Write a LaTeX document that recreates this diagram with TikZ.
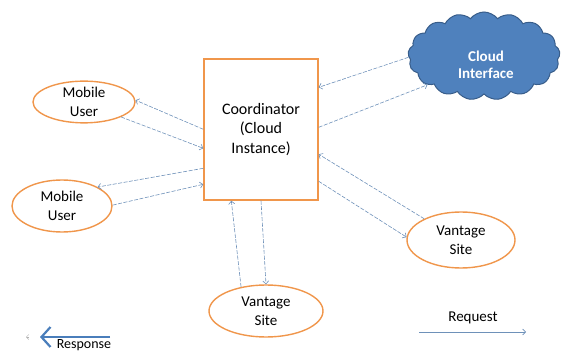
\documentclass[tikz,border=0pt]{standalone}
\usepackage{fontspec}
\setmainfont{Carlito}
\usetikzlibrary{shapes.geometric,shapes.symbols,arrows.meta}
\definecolor{orng}{RGB}{240,150,75}
\definecolor{lineblue}{RGB}{110,145,185}
\definecolor{cloudblue}{RGB}{79,129,189}
\definecolor{cloudedge}{RGB}{56,93,138}
\definecolor{legblue}{RGB}{74,126,187}
\tikzset{
  ell/.style={ellipse, draw=orng, line width=1.4pt, fill=white, align=center, inner sep=0pt, font=\fontsize{15}{19}\selectfont},
  conn/.style={draw=lineblue, line width=0.6pt, dash pattern=on 4pt off 1.5pt, -{Straight Barb[length=3pt,width=6pt]}},
}
\begin{document}
\begin{tikzpicture}[x=1pt,y=-1pt]
\useasboundingbox (0,0) rectangle (561,352);
% coordinator
\node[draw=orng, line width=1.4pt, minimum width=114pt, minimum height=141pt, align=center,
      font=\fontsize{16}{19.5}\selectfont, inner sep=0pt] (c) at (261,129.5) {Coordinator\\(Cloud\\Instance)};
% ellipses
\node[ell, minimum width=102pt, minimum height=40pt] (m1) at (84,102) {Mobile\\User};
\node[ell, minimum width=100pt, minimum height=52pt] (m2) at (62,206) {Mobile\\User};
\node[ell, minimum width=114pt, minimum height=52pt] (v1) at (266,311) {Vantage\\Site};
\node[ell, minimum width=108pt, minimum height=56pt] (v2) at (461,240) {Vantage\\Site};
% cloud
\node[cloud, cloud puffs=17, cloud puff arc=105, aspect=1.8, draw=cloudedge, fill=cloudblue, line width=1pt,
      minimum width=152pt, minimum height=88pt, inner sep=0pt] (cl) at (484,56) {};
\node[text=white, align=center, font=\fontsize{15}{17}\bfseries\selectfont] (clt) at (486,65) {Cloud\\Interface};
% connectors mobile user 1
\draw[conn] ([yshift=-71pt]c.north west) -- (m1.2);
\draw[conn] (m1.-22) -- ([yshift=-90pt]c.north west);
% mobile user 2
\draw[conn] ([yshift=-110pt]c.north west) -- (m2.28);
\draw[conn] (m2.1) -- ([yshift=-126pt]c.north west);
% cloud
\draw[conn] (cl.181) -- ([yshift=-29pt]c.north east);
\draw[conn] ([yshift=-69pt]c.north east) -- (cl.207);
% vantage right
\draw[conn] (v2.150) -- ([yshift=-96pt]c.north east);
\draw[conn] ([yshift=-123pt]c.north east) -- (v2.177);
% vantage bottom
\draw[conn] (v1.136) -- ([xshift=28pt]c.south west);
\draw[conn] (c.south) -- (v1.north);
% legend
\coordinate (ra) at (110,337);
\coordinate (rb) at (40,337);
\draw[legblue, line width=2.2pt, -{Straight Barb[length=9pt,width=20pt]}] (ra) -- (rb);
\coordinate (sa) at (29,337);
\coordinate (sb) at (26,337);
\draw[gray!60, line width=0.5pt, -{Straight Barb[length=2.5pt,width=5pt]}] (sa) -- (sb);
\node[anchor=base, font=\fontsize{14}{17}\selectfont] (resp) at (84,348.5) {Response};
\coordinate (qa) at (419,332);
\coordinate (qb) at (526,332);
\draw[lineblue, line width=0.7pt, -{Straight Barb[length=3pt,width=6pt]}] (qa) -- (qb);
\node[font=\fontsize{15}{18}\selectfont] (req) at (473,318) {Request};
\end{tikzpicture}
\end{document}
